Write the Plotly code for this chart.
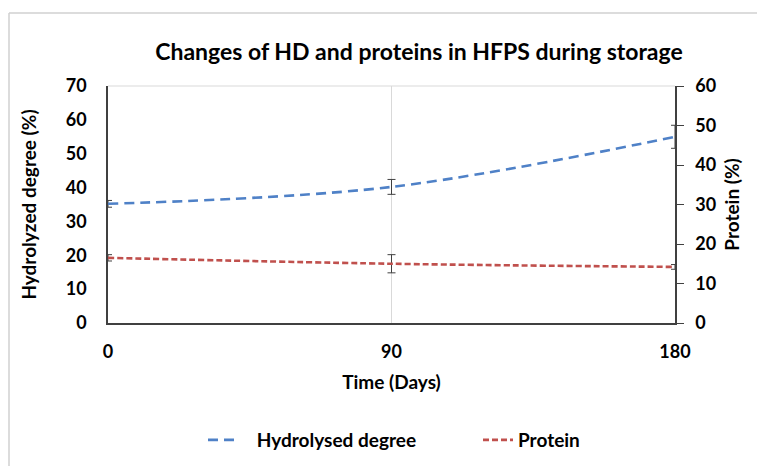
import plotly.graph_objects as go

days = [0, 90, 180]
hd = [35.2, 40.2, 55.0]
hd_err = [1.0, 2.2, 3.4]
protein = [16.5, 15.0, 14.2]
protein_err = [0.8, 2.3, 0.6]
x_ticks = [0, 90, 180]
left_ticks = [0, 10, 20, 30, 40, 50, 60, 70]
right_ticks = [0, 10, 20, 30, 40, 50, 60]

FONT = "Lato"
W, H = 765, 466
OFF = 8  # page body margin
L, R, T, B = 108, 675, 86, 323  # target plot area in window pixels

fig = go.Figure()
fig.add_trace(go.Scatter(
    x=days, y=hd, name="\u00a0\u00a0\u00a0Hydrolysed degree", mode="lines",
    line=dict(color="#4F81C7", width=2.6, dash="10px,6px", shape="spline"),
    error_y=dict(type="data", array=hd_err, color="#404040", thickness=1, width=4),
    yaxis="y", cliponaxis=False, legend="legend", showlegend=True,
))
fig.add_trace(go.Scatter(
    x=days, y=protein, name="Protein", mode="lines",
    line=dict(color="#C0504D", width=2.6, dash="6px,3px", shape="spline"),
    error_y=dict(type="data", array=protein_err, color="#404040", thickness=1, width=4),
    yaxis="y2", cliponaxis=False, legend="legend2", showlegend=True,
))

def px_x(p):
    return (p - L) / (R - L)

def px_y(p):
    return (B - p) / (B - T)

shapes = [
    dict(type="line", xref="paper", yref="paper", x0=0, x1=1, y0=1, y1=1,
         line=dict(color="#D9D9D9", width=1)),
    dict(type="line", xref="paper", yref="paper", x0=px_x(9), x1=px_x(780), y0=px_y(13), y1=px_y(13),
         line=dict(color="#D0D0D0", width=1.5)),
    dict(type="line", xref="paper", yref="paper", x0=px_x(9), x1=px_x(9), y0=px_y(13), y1=px_y(480),
         line=dict(color="#D0D0D0", width=1.5)),
]

tickfont = dict(family=FONT, size=18, color="#000000", weight="bold")
legfont = dict(family=FONT, size=19, color="#000000", weight="bold")
fig.update_layout(
    width=W, height=H, showlegend=True,
    margin=dict(l=L - OFF, r=W - (R - OFF), t=T - OFF, b=H - (B - OFF), autoexpand=False),
    paper_bgcolor="white", plot_bgcolor="white",
    font=dict(family=FONT, color="#000000"),
    title=dict(text="<b>Changes of HD and proteins in HFPS during storage</b>",
               x=(419 - OFF) / W, xanchor="center", y=1 - (52 - OFF) / H, yanchor="middle",
               font=dict(family=FONT, size=23, color="#000000")),
    xaxis=dict(range=[0, 180], tickvals=x_ticks, ticktext=[str(v) for v in x_ticks],
               showgrid=True, gridcolor="#D9D9D9", gridwidth=1,
               showline=True, linecolor="#404040", linewidth=1.5, ticks="",
               tickfont=tickfont, zeroline=False, ticklabelstandoff=12,
               title=dict(text="<b>Time (Days)</b>", font=dict(family=FONT, size=19, color="#000000"), standoff=14)),
    yaxis=dict(range=[0, 70], tickvals=left_ticks, showgrid=False, zeroline=False,
               showline=True, linecolor="#404040", linewidth=1.5, ticks="",
               tickfont=tickfont, ticklabelstandoff=16,
               title=dict(text="<b>Hydrolyzed degree (%)</b>", font=dict(family=FONT, size=19, color="#000000"), standoff=24)),
    yaxis2=dict(range=[0, 60], tickvals=right_ticks, overlaying="y", side="right",
                showgrid=False, zeroline=False,
                showline=True, linecolor="#404040", linewidth=1.5,
                ticks="outside", ticklen=7, tickcolor="#404040", tickwidth=1.2,
                tickfont=tickfont, ticklabelstandoff=8,
                title=dict(text="<b>Protein (%)</b>", font=dict(family=FONT, size=19, color="#000000"), standoff=10)),
    legend=dict(orientation="h", x=px_x(203), xanchor="left", y=px_y(440), yanchor="middle",
                font=legfont, bgcolor="rgba(0,0,0,0)", visible=True),
    legend2=dict(orientation="h", x=px_x(478), xanchor="left", y=px_y(440), yanchor="middle",
                 font=legfont, bgcolor="rgba(0,0,0,0)", visible=True),
    shapes=shapes,
)

fig.write_html("out.html")
